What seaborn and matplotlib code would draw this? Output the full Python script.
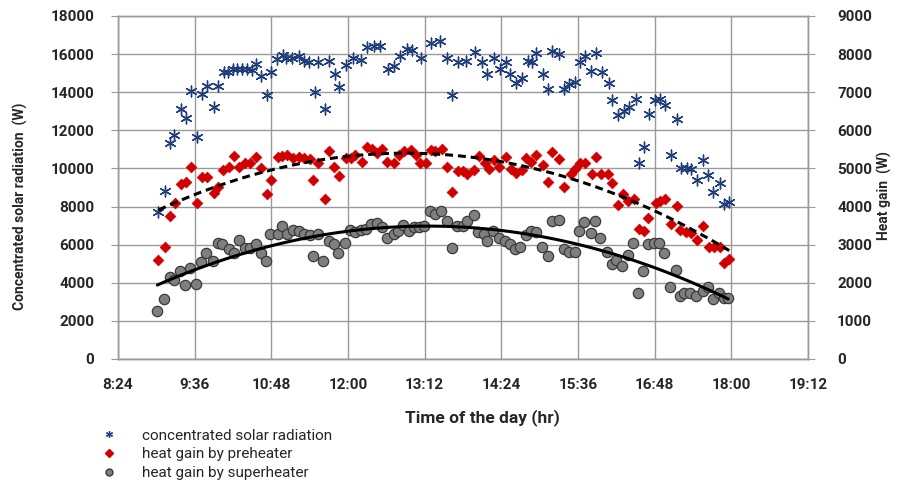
import matplotlib
matplotlib.use('Agg')  # no display
import matplotlib.pyplot as plt
import seaborn as sns
import numpy as np
from matplotlib.ticker import FuncFormatter, MultipleLocator
from matplotlib.lines import Line2D

# minutes after 9:00 and measured values (W)
solar_t = [2, 8, 13, 17, 23, 28, 33, 38, 43, 48, 54, 58, 64, 67, 72, 76, 80, 85, 90, 94,
           98, 104, 108, 113, 119, 122, 127, 134, 139, 143, 149, 152, 158, 162, 168, 172,
           178, 185, 192, 198, 204, 210, 218, 223, 229, 235, 240, 249, 258, 266, 273, 278,
           283, 291, 299, 306, 311, 317, 323, 328, 332, 338, 343, 349, 353, 357, 363, 368,
           372, 378, 383, 388, 393, 398, 403, 408, 413, 419, 425, 428, 434, 439, 444, 450,
           453, 458, 463, 468, 473, 478, 483, 489, 493, 498, 502, 508, 513, 518, 523, 529,
           533, 538]
solar_w = [7700, 8800, 11340, 11780, 13100, 12650, 14060, 11630, 13900, 14300, 13240, 14300,
           15070, 15070, 15240, 15240, 15240, 15200, 15160, 15470, 14860, 13830, 15080, 15740,
           15950, 15770, 15770, 15880, 15650, 15560, 14030, 15560, 13100, 15650, 14940, 14290,
           15420, 15820, 15700, 16350, 16440, 16440, 15240, 15350, 15880, 16260, 16230, 15820,
           16600, 16700, 15770, 13850, 15560, 15650, 16090, 15560, 14940, 15820, 15240, 15560,
           14940, 14470, 14770, 15650, 15610, 16050, 14940, 14150, 16180, 16000, 14150, 14420,
           14540, 15560, 15880, 15120, 16050, 15070, 14470, 13590, 12780, 13000, 13240, 13620,
           10280, 11120, 12830, 13590, 13660, 13310, 10720, 12570, 10010, 10010, 9960, 9400,
           10420, 9660, 8780, 9260, 8130, 8250]

pre_t = [2, 8, 13, 18, 23, 28, 33, 38, 43, 48, 54, 58, 63, 68, 73, 78, 83, 88, 94, 98,
         104, 108, 114, 118, 123, 128, 134, 139, 144, 147, 152, 158, 162, 167, 172, 178,
         183, 187, 193, 198, 203, 207, 212, 217, 223, 228, 233, 239, 244, 248, 253, 258,
         262, 268, 273, 278, 283, 288, 292, 298, 303, 309, 312, 317, 322, 328, 333, 338,
         343, 347, 352, 357, 363, 368, 372, 378, 383, 389, 393, 398, 403, 409, 413, 418,
         424, 428, 434, 438, 443, 449, 453, 458, 462, 469, 473, 478, 483, 489, 492, 497,
         502, 508, 513, 519, 524, 529, 533, 538]
pre_w = [2600, 2935, 3745, 4080, 4590, 4650, 5030, 4080, 4780, 4780, 4360, 4500, 4960, 5050,
         5330, 5030, 5150, 5140, 5300, 5000, 4340, 4700, 5310, 5330, 5360, 5270, 5310, 5270,
         5240, 4700, 5150, 4190, 5470, 5030, 4800, 5270, 5270, 5360, 5180, 5560, 5510, 5400,
         5520, 5180, 5150, 5360, 5470, 5490, 5360, 5150, 5150, 5490, 5470, 5510, 5050, 4390,
         4940, 4940, 4850, 4960, 5330, 5140, 4980, 5210, 5050, 5300, 4980, 4890, 4960, 5270,
         5180, 5360, 5090, 4650, 5440, 5240, 4520, 4850, 4980, 5150, 5150, 4850, 5300, 4850,
         4850, 4610, 4050, 4340, 4150, 4190, 3420, 3360, 3710, 4100, 4150, 4210, 3530, 4010,
         3390, 3330, 3300, 3110, 3480, 2950, 2950, 2950, 2510, 2630]

sup_t = [1, 7, 13, 17, 22, 27, 32, 37, 42, 47, 53, 58, 62, 68, 73, 78, 83, 88, 94, 98,
         103, 107, 114, 118, 123, 128, 134, 139, 144, 147, 152, 157, 162, 167, 171, 177,
         182, 187, 192, 197, 202, 207, 212, 217, 223, 227, 232, 237, 242, 247, 251, 257,
         262, 267, 273, 278, 282, 288, 292, 298, 302, 308, 311, 316, 322, 327, 332, 337,
         342, 347, 352, 357, 362, 368, 372, 378, 383, 388, 393, 397, 402, 408, 412, 417,
         423, 428, 432, 437, 443, 448, 452, 457, 462, 467, 472, 477, 482, 488, 492, 496,
         501, 507, 513, 518, 523, 528, 533, 537]
sup_w = [1260, 1570, 2140, 2070, 2320, 1950, 2390, 1980, 2540, 2780, 2580, 3040, 3020, 2890,
         2780, 3110, 2920, 2920, 3020, 2780, 2560, 3270, 3270, 3480, 3270, 3390, 3370, 3270,
         3240, 2690, 3270, 2580, 3090, 3020, 2780, 3040, 3390, 3330, 3390, 3420, 3530, 3570,
         3450, 3180, 3270, 3360, 3510, 3360, 3450, 3450, 3480, 3890, 3800, 3890, 3620, 2920,
         3480, 3480, 3620, 3770, 3330, 3270, 3090, 3360, 3180, 3090, 3020, 2890, 2950, 3240,
         3360, 3330, 2950, 2710, 3620, 3640, 2890, 2800, 2800, 3370, 3590, 3300, 3620, 3180,
         2800, 2490, 2600, 2450, 2740, 3040, 1720, 2300, 3020, 3040, 3040, 2780, 1890, 2330,
         1660, 1720, 1720, 1660, 1790, 1890, 1570, 1740, 1610, 1590]

# convert to minutes of the day
start = 9 * 60
solar_x = np.array(solar_t) + start
pre_x = np.array(pre_t) + start
sup_x = np.array(sup_t) + start

blue = '#1F3D7A'
red = '#D00000'
grey = '#7F7F7F'
grid_c = '#9A9A9A'

sns.set_style('white')
plt.rcParams['font.family'] = ['Roboto', 'DejaVu Sans']

fig = plt.figure(figsize=(9.02, 4.84), dpi=100)
ax = fig.add_axes([0.1308, 0.2583, 0.765, 0.7087])
ax2 = ax.twinx()

# solar radiation on left axis
sns.scatterplot(x=solar_x, y=solar_w, ax=ax, marker=(6, 2, 0), s=60, color=blue,
                linewidth=1.0, edgecolor=blue)

# heat gains on right axis
sns.scatterplot(x=pre_x, y=pre_w, ax=ax2, marker='D', s=30, color=red, edgecolor=red,
                linewidth=0.5, zorder=3)
sns.scatterplot(x=sup_x, y=sup_w, ax=ax2, marker='o', s=55, color=grey, edgecolor='#3A3A3A',
                linewidth=0.9, zorder=3)

# 2nd order trend lines
sns.regplot(x=pre_x, y=pre_w, ax=ax2, order=2, scatter=False, ci=None, truncate=True,
            line_kws=dict(color='black', lw=2.2, ls=(0, (2.6, 1.6)), zorder=4))
sns.regplot(x=sup_x, y=sup_w, ax=ax2, order=2, scatter=False, ci=None, truncate=True,
            line_kws=dict(color='black', lw=2.2, zorder=4))

# axes limits / ticks
ax.set_xlim(504, 1152)
ax.set_ylim(0, 18000)
ax2.set_ylim(0, 9000)
ax.xaxis.set_major_locator(MultipleLocator(72))
ax.yaxis.set_major_locator(MultipleLocator(2000))
ax2.yaxis.set_major_locator(MultipleLocator(1000))
ax.xaxis.set_major_formatter(FuncFormatter(lambda v, p: f"{int(v)//60}:{int(v)%60:02d}"))

ax.grid(True, color=grid_c, lw=1.0)
ax.set_axisbelow(True)
ax2.grid(False)

for a in (ax, ax2):
    for s in a.spines.values():
        s.set_color(grid_c)
        s.set_linewidth(1.0)
ax.spines['bottom'].set_color('#868686')

ax.tick_params(axis='x', length=5, direction='out', color=grid_c, pad=9, labelsize=11)
ax.tick_params(axis='y', length=5, direction='out', color=grid_c, pad=12, labelsize=11)
ax2.tick_params(axis='y', length=5, direction='out', color=grid_c, pad=16, labelsize=11)
for lab in ax.get_xticklabels() + ax.get_yticklabels() + ax2.get_yticklabels():
    lab.set_fontweight('bold')

ax.set_xlabel('Time of the day (hr)', fontsize=12.5, fontweight='bold')
ax.set_ylabel('Concentrated solar radiation  (W)', fontsize=10, fontweight='bold')
ax2.set_ylabel('Heat gain  (W)', fontsize=10, fontweight='bold')
ax.xaxis.set_label_coords(0.528, -0.145)
ax.yaxis.set_label_coords(-0.13, 0.446)
ax2.yaxis.set_label_coords(1.1, 0.475)

handles = [
    Line2D([], [], ls='none', marker=(6, 2, 0), ms=5, mec=blue, mew=0.9, color=blue),
    Line2D([], [], ls='none', marker='D', ms=4, mfc=red, mec=red, color=red),
    Line2D([], [], ls='none', marker='o', ms=5, mfc=grey, mec='#3A3A3A', color=grey),
]
labels = ['concentrated solar radiation', 'heat gain by preheater', 'heat gain by superheater']
fig.legend(handles, labels, loc='upper left', bbox_to_anchor=(0.102, 0.13), frameon=False,
           fontsize=11, handletextpad=1.6, labelspacing=0.3, borderpad=0, handlelength=1.2)

fig.savefig('out.png', dpi=100)
